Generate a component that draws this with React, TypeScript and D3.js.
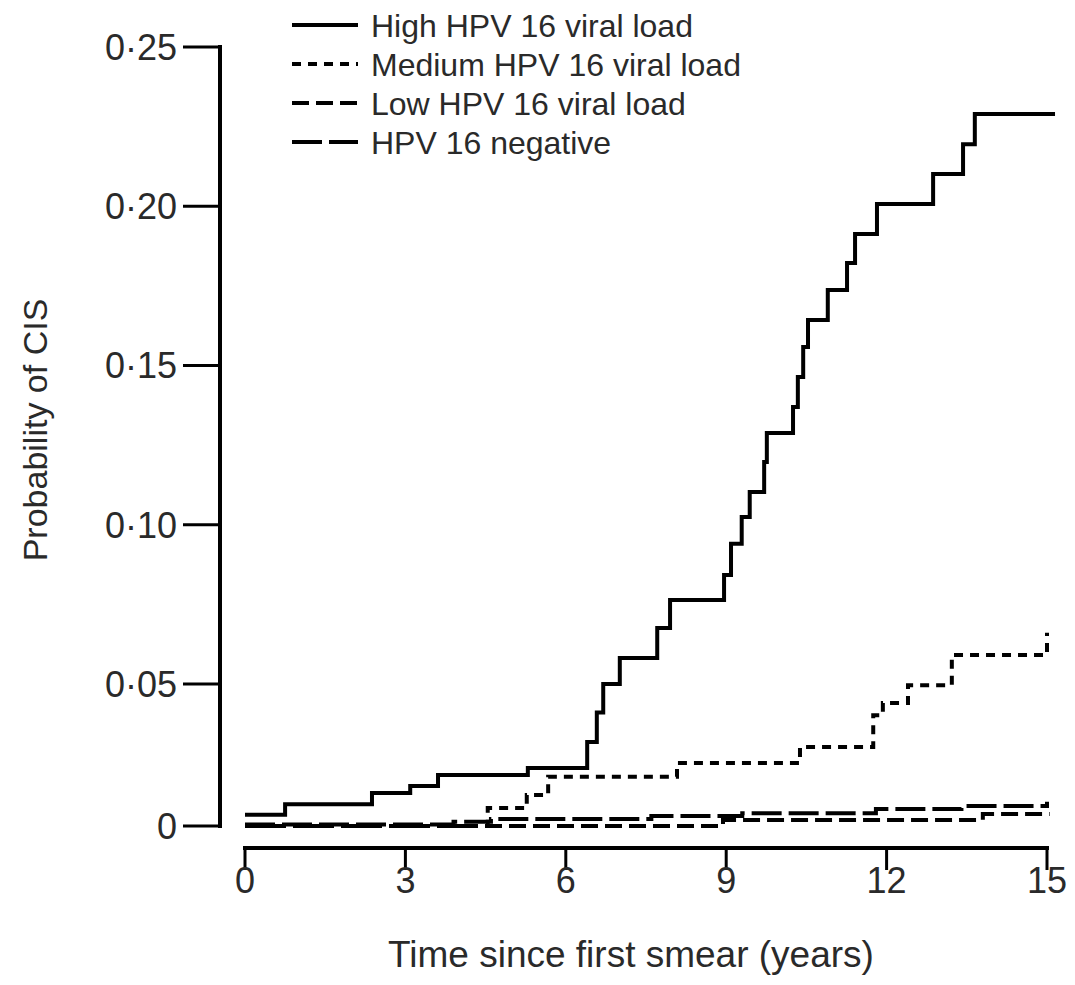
import React, { useRef, useEffect } from "react";
import * as d3 from "d3";

// Cumulative probability of CIS by HPV 16 viral load
const highTimes = [0, 0.75, 2.375, 3.09, 3.61, 5.29, 6.4, 6.58, 6.7, 7.01, 7.71, 7.95, 8.96, 9.09, 9.29, 9.44, 9.71, 9.76, 10.25, 10.34, 10.44, 10.53, 10.9, 11.26, 11.41, 11.82, 12.87, 13.43, 13.65, 15.15];
const highProbs = [0.004, 0.0077, 0.0116, 0.0141, 0.018, 0.0204, 0.0296, 0.04, 0.05, 0.0582, 0.0676, 0.0764, 0.0842, 0.094, 0.1024, 0.1103, 0.1197, 0.1288, 0.137, 0.1464, 0.1558, 0.1643, 0.1737, 0.1822, 0.1913, 0.2007, 0.2101, 0.2195, 0.229, 0.229];

const mediumTimes = [0, 4.54, 5.27, 5.67, 8.08, 10.38, 11.75, 11.93, 12.4, 13.22, 15.0];
const mediumProbs = [0, 0.0063, 0.0109, 0.0173, 0.0222, 0.0278, 0.039, 0.0433, 0.0496, 0.0591, 0.0661];

const lowTimes = [0, 8.94, 13.8, 15.05];
const lowProbs = [0, 0.0021, 0.0042, 0.0042];

const negTimes = [0, 3.9, 4.6, 7.6, 9.3, 11.8, 13.4, 15.0];
const negProbs = [0.0005, 0.0015, 0.0025, 0.0035, 0.0045, 0.006, 0.007, 0.0085];

const seriesNames = [
  "High HPV 16 viral load",
  "Medium HPV 16 viral load",
  "Low HPV 16 viral load",
  "HPV 16 negative",
];

const xTicks = [0, 3, 6, 9, 12, 15];
const yTicks = [0, 0.05, 0.1, 0.15, 0.2, 0.25];

function App() {
  const svgRef = useRef<SVGSVGElement>(null);
  const width = 1075;
  const height = 985;
  const font = "'Liberation Sans', Arial, sans-serif";
  const ink = "#2a2a2a";

  useEffect(() => {
    const svg = d3.select(svgRef.current);
    svg.selectAll("*").remove();

    const x = d3.scaleLinear().domain([0, 15]).range([245, 1047]);
    // bottom band is squeezed a little in the original
    const y = d3.scaleLinear().domain([0, 0.05, 0.25]).range([826, 684, 47]);

    const series = [
      { t: highTimes, p: highProbs, dash: "" },
      { t: mediumTimes, p: mediumProbs, dash: "9,7" },
      { t: lowTimes, p: lowProbs, dash: "17,7" },
      { t: negTimes, p: negProbs, dash: "30,7" },
    ];

    // Y axis
    const yAxis = svg.append("g");
    yAxis
      .append("line")
      .attr("x1", 220)
      .attr("x2", 220)
      .attr("y1", y(0.25) - 2)
      .attr("y2", y(0) + 2)
      .attr("stroke", "#000")
      .attr("stroke-width", 4);
    yTicks.forEach((v) => {
      yAxis
        .append("line")
        .attr("x1", 183)
        .attr("x2", 220)
        .attr("y1", y(v))
        .attr("y2", y(v))
        .attr("stroke", "#000")
        .attr("stroke-width", 3);
      yAxis
        .append("text")
        .attr("x", 177)
        .attr("y", y(v))
        .attr("dy", "0.36em")
        .attr("text-anchor", "end")
        .attr("font-family", font)
        .attr("font-size", 36)
        .attr("fill", ink)
        .text(v === 0 ? "0" : d3.format(".2f")(v).replace(".", "·"));
    });

    // X axis
    const xAxis = svg.append("g");
    xAxis
      .append("line")
      .attr("x1", x(0) - 2)
      .attr("x2", x(15) + 2)
      .attr("y1", 848)
      .attr("y2", 848)
      .attr("stroke", "#000")
      .attr("stroke-width", 4);
    xTicks.forEach((v) => {
      xAxis
        .append("line")
        .attr("x1", x(v))
        .attr("x2", x(v))
        .attr("y1", 848)
        .attr("y2", 870)
        .attr("stroke", "#000")
        .attr("stroke-width", 3);
      xAxis
        .append("text")
        .attr("x", x(v))
        .attr("y", 893)
        .attr("text-anchor", "middle")
        .attr("font-family", font)
        .attr("font-size", 36)
        .attr("fill", ink)
        .text(v);
    });

    // Axis titles
    svg
      .append("text")
      .attr("x", 631)
      .attr("y", 967)
      .attr("text-anchor", "middle")
      .attr("font-family", font)
      .attr("font-size", 37)
      .attr("fill", ink)
      .text("Time since first smear (years)");
    svg
      .append("text")
      .attr("transform", "translate(47,430) rotate(-90)")
      .attr("text-anchor", "middle")
      .attr("font-family", font)
      .attr("font-size", 34)
      .attr("fill", ink)
      .text("Probability of CIS");

    // Step curves
    const line = d3
      .line<[number, number]>()
      .x((d) => x(d[0]))
      .y((d) => y(d[1]))
      .curve(d3.curveStepAfter);

    series
      .slice()
      .reverse()
      .forEach((s) => {
        const pts = s.t.map((t, i) => [t, s.p[i]] as [number, number]);
        svg
          .append("path")
          .datum(pts)
          .attr("fill", "none")
          .attr("stroke", "#000")
          .attr("stroke-width", 4)
          .attr("stroke-dasharray", s.dash)
          .attr("d", line);
      });

    // Legend
    const legendY = [25, 64, 103, 142];
    series.forEach((s, i) => {
      svg
        .append("line")
        .attr("x1", 292)
        .attr("x2", 358)
        .attr("y1", legendY[i])
        .attr("y2", legendY[i])
        .attr("stroke", "#000")
        .attr("stroke-width", 4)
        .attr("stroke-dasharray", s.dash);
      svg
        .append("text")
        .attr("x", 371)
        .attr("y", legendY[i])
        .attr("dy", "0.36em")
        .attr("font-family", font)
        .attr("font-size", 32)
        .attr("fill", ink)
        .text(seriesNames[i]);
    });
  }, []);

  return (
    <div>
      <svg
        ref={svgRef}
        width={width}
        height={height}
        style={{ position: "absolute", left: 0, top: 0, background: "#fff" }}
      />
    </div>
  );
}

export default App;
